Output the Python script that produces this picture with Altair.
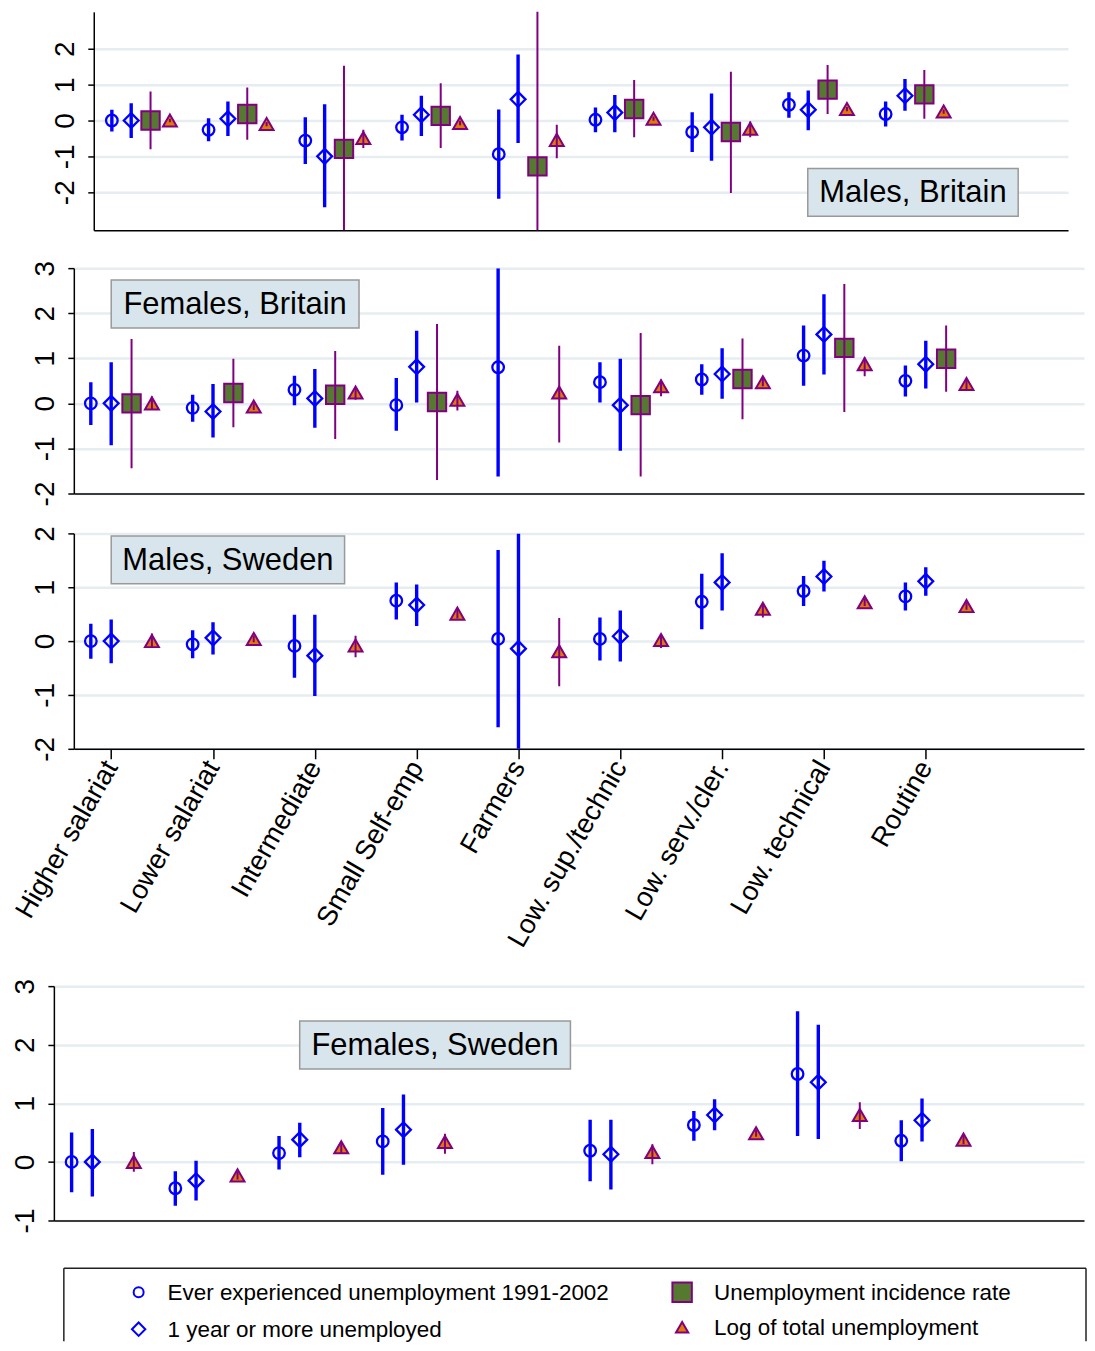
import altair as alt
import pandas as pd

categories = ["Higher salariat", "Lower salariat", "Intermediate", "Small Self-emp",
              "Farmers", "Low. sup./technic", "Low. serv./cler.", "Low. technical", "Routine"]

series_names = ["Ever experienced unemployment 1991-2002", "1 year or more unemployed",
                "Unemployment incidence rate", "Log of total unemployment"]

panel_titles = ["Males, Britain", "Females, Britain", "Males, Sweden", "Females, Sweden"]

# (estimate, lower CI, upper CI) per class; None = not shown
mb_ever = [(0.00, -0.31, 0.30), (-0.26, -0.58, 0.06), (-0.56, -1.21, 0.09), (-0.19, -0.56, 0.16),
           (-0.94, -2.18, 0.31), (0.02, -0.33, 0.36), (-0.32, -0.88, 0.23), (0.44, 0.08, 0.79), (0.18, -0.17, 0.53)]
mb_year = [(0.00, -0.49, 0.48), (0.05, -0.43, 0.53), (-1.00, -2.42, 0.45), (0.16, -0.43, 0.69),
           (0.59, -0.63, 1.84), (0.22, -0.33, 0.71), (-0.19, -1.12, 0.75), (0.30, -0.27, 0.84), (0.69, 0.27, 1.16)]
mb_incid = [(0.00, -0.80, 0.81), (0.18, -0.54, 0.92), (-0.79, -3.40, 1.53), (0.13, -0.77, 1.04),
            (-1.28, -3.40, 3.40), (0.32, -0.47, 1.13), (-0.32, -2.02, 1.36), (0.86, 0.18, 1.55), (0.73, 0.05, 1.41)]
mb_log = [(0.00, -0.05, 0.05), (-0.10, -0.16, -0.04), (-0.49, -0.77, -0.26), (-0.07, -0.13, -0.01),
          (-0.54, -1.05, -0.12), (0.05, -0.01, 0.11), (-0.23, -0.47, -0.03), (0.32, 0.26, 0.38), (0.25, 0.19, 0.31)]

fb_ever = [(0.00, -0.48, 0.47), (-0.10, -0.41, 0.19), (0.30, -0.04, 0.61), (-0.04, -0.61, 0.56),
           (0.80, -1.62, 3.00), (0.47, 0.02, 0.91), (0.53, 0.19, 0.87), (1.06, 0.39, 1.73), (0.50, 0.15, 0.84)]
fb_year = [(0.00, -0.93, 0.91), (-0.18, -0.76, 0.43), (0.11, -0.54, 0.76), (0.81, 0.02, 1.61),
           None, (-0.04, -1.05, 0.99), (0.65, 0.10, 1.22), (1.53, 0.64, 2.42), (0.87, 0.33, 1.39)]
fb_incid = [(0.00, -1.44, 1.43), (0.23, -0.53, 0.99), (0.19, -0.79, 1.16), (0.03, -1.70, 1.76),
            None, (-0.04, -1.62, 1.56), (0.54, -0.35, 1.44), (1.23, -0.19, 2.65), (0.99, 0.26, 1.73)]
fb_log = [(0.00, -0.15, 0.15), (-0.07, -0.15, 0.00), (0.24, 0.08, 0.36), (0.08, -0.16, 0.28),
          (0.24, -0.87, 1.28), (0.38, 0.16, 0.53), (0.47, 0.38, 0.58), (0.87, 0.60, 1.02), (0.43, 0.32, 0.52)]

ms_ever = [(0.00, -0.33, 0.32), (-0.06, -0.32, 0.20), (-0.09, -0.68, 0.49), (0.75, 0.40, 1.09),
           (0.04, -1.60, 1.69), (0.04, -0.36, 0.44), (0.73, 0.22, 1.25), (0.93, 0.65, 1.21), (0.83, 0.57, 1.09)]
ms_year = [(0.00, -0.41, 0.40), (0.06, -0.25, 0.35), (-0.27, -1.02, 0.49), (0.67, 0.28, 1.05),
           (-0.14, -2.10, 2.00), (0.09, -0.38, 0.57), (1.09, 0.57, 1.63), (1.20, 0.92, 1.49), (1.11, 0.84, 1.37)]
ms_log = [(0.00, -0.11, 0.14), (0.04, -0.02, 0.10), (-0.08, -0.30, 0.10), (0.51, 0.42, 0.60),
          (-0.19, -0.84, 0.43), (0.02, -0.13, 0.10), (0.60, 0.44, 0.69), (0.72, 0.65, 0.79), (0.65, 0.58, 0.72)]

fs_ever = [(0.00, -0.52, 0.50), (-0.45, -0.75, -0.16), (0.15, -0.13, 0.44), (0.35, -0.22, 0.92),
           None, (0.19, -0.33, 0.72), (0.63, 0.36, 0.87), (1.50, 0.44, 2.57), (0.36, 0.01, 0.71)]
fs_year = [(0.00, -0.59, 0.56), (-0.32, -0.66, 0.02), (0.38, 0.08, 0.67), (0.55, -0.05, 1.15),
           None, (0.13, -0.47, 0.72), (0.80, 0.54, 1.07), (1.36, 0.39, 2.34), (0.71, 0.35, 1.08)]
fs_log = [(0.00, -0.17, 0.17), (-0.23, -0.30, -0.16), (0.25, 0.14, 0.33), (0.34, 0.14, 0.48),
          None, (0.17, -0.04, 0.30), (0.49, 0.43, 0.55), (0.80, 0.56, 1.02), (0.38, 0.30, 0.45)]

FONT = "Liberation Sans"
BLUE = "#0000ff"
PURPLE = "#800080"
GREEN = "#557a2f"
ORANGE = "#e07b00"
GRID = "#e6edf1"
BOXFILL = "#d9e5ec"
OFFSETS = [-0.2, 0.0, 0.2, 0.4]

label_expr = "[" + ",".join("'" + c + "'" for c in categories) + "][datum.value]"


def make_df(lists):
    rows = []
    for k, (name, vals) in enumerate(zip(series_names, lists)):
        if vals is None:
            continue
        for i, v in enumerate(vals):
            if v is None:
                continue
            rows.append({"series": name, "cat": categories[i], "pos": i + OFFSETS[k],
                         "est": v[0], "lo": v[1], "hi": v[2]})
    return pd.DataFrame(rows)


def panel(df, ydom, yvals, xdom, w, h, title, box, show_labels):
    if show_labels:
        xaxis = alt.Axis(values=list(range(len(categories))), labelExpr=label_expr,
                         labelAngle=300, labelAlign="right", labelBaseline="middle",
                         labelFontSize=27.5, labelFont=FONT, labelColor="black", labelPadding=4,
                         labelLimit=600, labelFlush=False, labelOverlap=False, tickSize=10,
                         tickColor="black", tickWidth=1.5, domainColor="black", domainWidth=1.5,
                         grid=False, title=None)
    else:
        xaxis = alt.Axis(labels=False, ticks=False, grid=False, title=None,
                         domainColor="black", domainWidth=1.5)
    xs = alt.Scale(domain=xdom, nice=False, zero=False)
    ys = alt.Scale(domain=ydom, nice=False, zero=False)
    yaxis = alt.Axis(values=yvals, title=None, grid=True, gridColor=GRID, gridWidth=2.5,
                     domainColor="black", domainWidth=1.5, tickColor="black", tickSize=6,
                     tickWidth=1.5, labelAngle=270, labelAlign="center", labelBaseline="alphabetic",
                     labelFontSize=28, labelFont=FONT, labelColor="black", labelPadding=14,
                     labelFlush=False, labelOverlap=False, labelExpr="'' + datum.value")
    X = alt.X("pos:Q", scale=xs, axis=xaxis)
    Ylo = alt.Y("lo:Q", scale=ys, axis=yaxis)
    Yest = alt.Y("est:Q", scale=ys, axis=yaxis)

    base = alt.Chart(df)

    def only(names):
        return base.transform_filter(alt.FieldOneOfPredicate(field="series", oneOf=names))

    blue_ci = only(series_names[:2]).mark_rule(color=BLUE, strokeWidth=3.4, clip=True).encode(
        x=X, y=Ylo, y2="hi:Q")
    circ = only(series_names[:1]).mark_point(shape="circle", filled=False, color=BLUE, size=135,
                                             strokeWidth=2.3, opacity=1).encode(x=X, y=Yest)
    diam = only(series_names[1:2]).mark_point(shape="diamond", filled=False, color=BLUE, size=220,
                                              strokeWidth=2.3, opacity=1).encode(x=X, y=Yest)
    sq = only(series_names[2:3]).mark_point(shape="square", filled=True, fill=GREEN, stroke=PURPLE,
                                            strokeWidth=2, size=340, opacity=1).encode(x=X, y=Yest)
    tri = only(series_names[3:4]).mark_point(shape="triangle-up", filled=True, fill=ORANGE,
                                             stroke=PURPLE, strokeWidth=2, size=195,
                                             opacity=1).encode(x=X, y=Yest)
    purple_ci = only(series_names[2:]).mark_rule(color=PURPLE, strokeWidth=2, clip=True).encode(
        x=X, y=Ylo, y2="hi:Q")

    tdf = pd.DataFrame({"label": [title]})
    x0, x1, y0, y1 = box
    rect = alt.Chart(tdf).mark_rect(fill=BOXFILL, stroke="#999999", strokeWidth=1.5).encode(
        x=alt.value(x0), x2=alt.value(x1), y=alt.value(y0), y2=alt.value(y1))
    txt = alt.Chart(tdf).mark_text(font=FONT, fontSize=31, color="black", align="center",
                                   baseline="middle").encode(
        x=alt.value((x0 + x1) / 2), y=alt.value((y0 + y1) / 2 + 1), text="label:N")

    layers = [blue_ci, circ, diam]
    if (df["series"] == series_names[2]).any():
        layers.append(sq)
    layers += [tri, purple_ci, rect, txt]
    return alt.layer(*layers).properties(width=w, height=h)


def spacer(w, h, top):
    # invisible guide that fixes the row's extent (top..h) and left edge
    return alt.Chart(pd.DataFrame({"k": [0]})).mark_rule(opacity=0).encode(
        x=alt.value(0), x2=alt.value(w), y=alt.value(top), y2=alt.value(h)
    ).properties(width=w, height=h)


p1 = panel(make_df([mb_ever, mb_year, mb_incid, mb_log]), [-3.06, 3.03], [-2, -1, 0, 1, 2],
           [-0.387, 9.686], 977, 219, panel_titles[0], (716, 927, 157, 205), False)
p2 = panel(make_df([fb_ever, fb_year, fb_incid, fb_log]), [-2, 3], [-2, -1, 0, 1, 2, 3],
           [-0.367, 9.554], 1013, 226, panel_titles[1], (37.5, 286, 12, 60), False)
p3 = panel(make_df([ms_ever, ms_year, None, ms_log]), [-2, 2], [-2, -1, 0, 1, 2],
           [-0.367, 9.554], 1013, 216, panel_titles[2], (37.5, 271.5, 2.5, 50.5), True)
p4 = panel(make_df([fs_ever, fs_year, None, fs_log]), [-1, 3], [-1, 0, 1, 2, 3],
           [-0.371, 9.562], 1033, 235, panel_titles[3], (246.5, 518, 35, 83), False)

# legend (drawn as a boxed key)
LW, LH = 1025, 73
leg_layers = []
edge = pd.DataFrame({"k": [0]})
for a, b, c, d in [(0, LW, 0, 0), (0, 0, 0, LH), (LW, LW, 0, LH)]:
    leg_layers.append(alt.Chart(edge).mark_rule(color="#222222", strokeWidth=1.5).encode(
        x=alt.value(a), x2=alt.value(b), y=alt.value(c), y2=alt.value(d)))
sym_styles = [
    dict(shape="circle", filled=False, color=BLUE, size=100, strokeWidth=2),
    dict(shape="diamond", filled=False, color=BLUE, size=180, strokeWidth=2),
    dict(shape="square", filled=True, fill=GREEN, stroke=PURPLE, size=380, strokeWidth=2),
    dict(shape="triangle-up", filled=True, fill=ORANGE, stroke=PURPLE, size=150, strokeWidth=2),
]
sym_xy = [(75, 24), (75, 61), (620, 24), (620, 59)]
for k, name in enumerate(series_names):
    d = pd.DataFrame({"label": [name]})
    sx, sy = sym_xy[k]
    leg_layers.append(alt.Chart(d).mark_point(opacity=1, **sym_styles[k]).encode(
        x=alt.value(sx), y=alt.value(sy)))
    leg_layers.append(alt.Chart(d).mark_text(font=FONT, fontSize=22.5, color="black", align="left",
                                             baseline="middle").encode(
        x=alt.value(sx + (29 if k < 2 else 32)), y=alt.value(sy + 1), text="label:N"))
legend = alt.layer(*leg_layers).properties(width=LW, height=LH)

EXT = -10
rows = [
    alt.hconcat(spacer(86, 247, 0), p1, spacing=0, bounds="flush"),
    alt.hconcat(spacer(66, 256, EXT), p2, spacing=0, bounds="flush"),
    alt.hconcat(spacer(66, 444, EXT), p3, spacing=0, bounds="flush"),
    alt.hconcat(spacer(46, 273, EXT), p4, spacing=0, bounds="flush"),
    alt.hconcat(spacer(56, LH, EXT), legend, spacing=0, bounds="flush"),
]

chart = alt.vconcat(*rows, spacing=0).properties(
    padding={"left": 0, "top": 2, "right": 0, "bottom": 0}
).configure_view(strokeWidth=0)

chart.save("out.html", embed_options={"renderer": "svg", "actions": False})
